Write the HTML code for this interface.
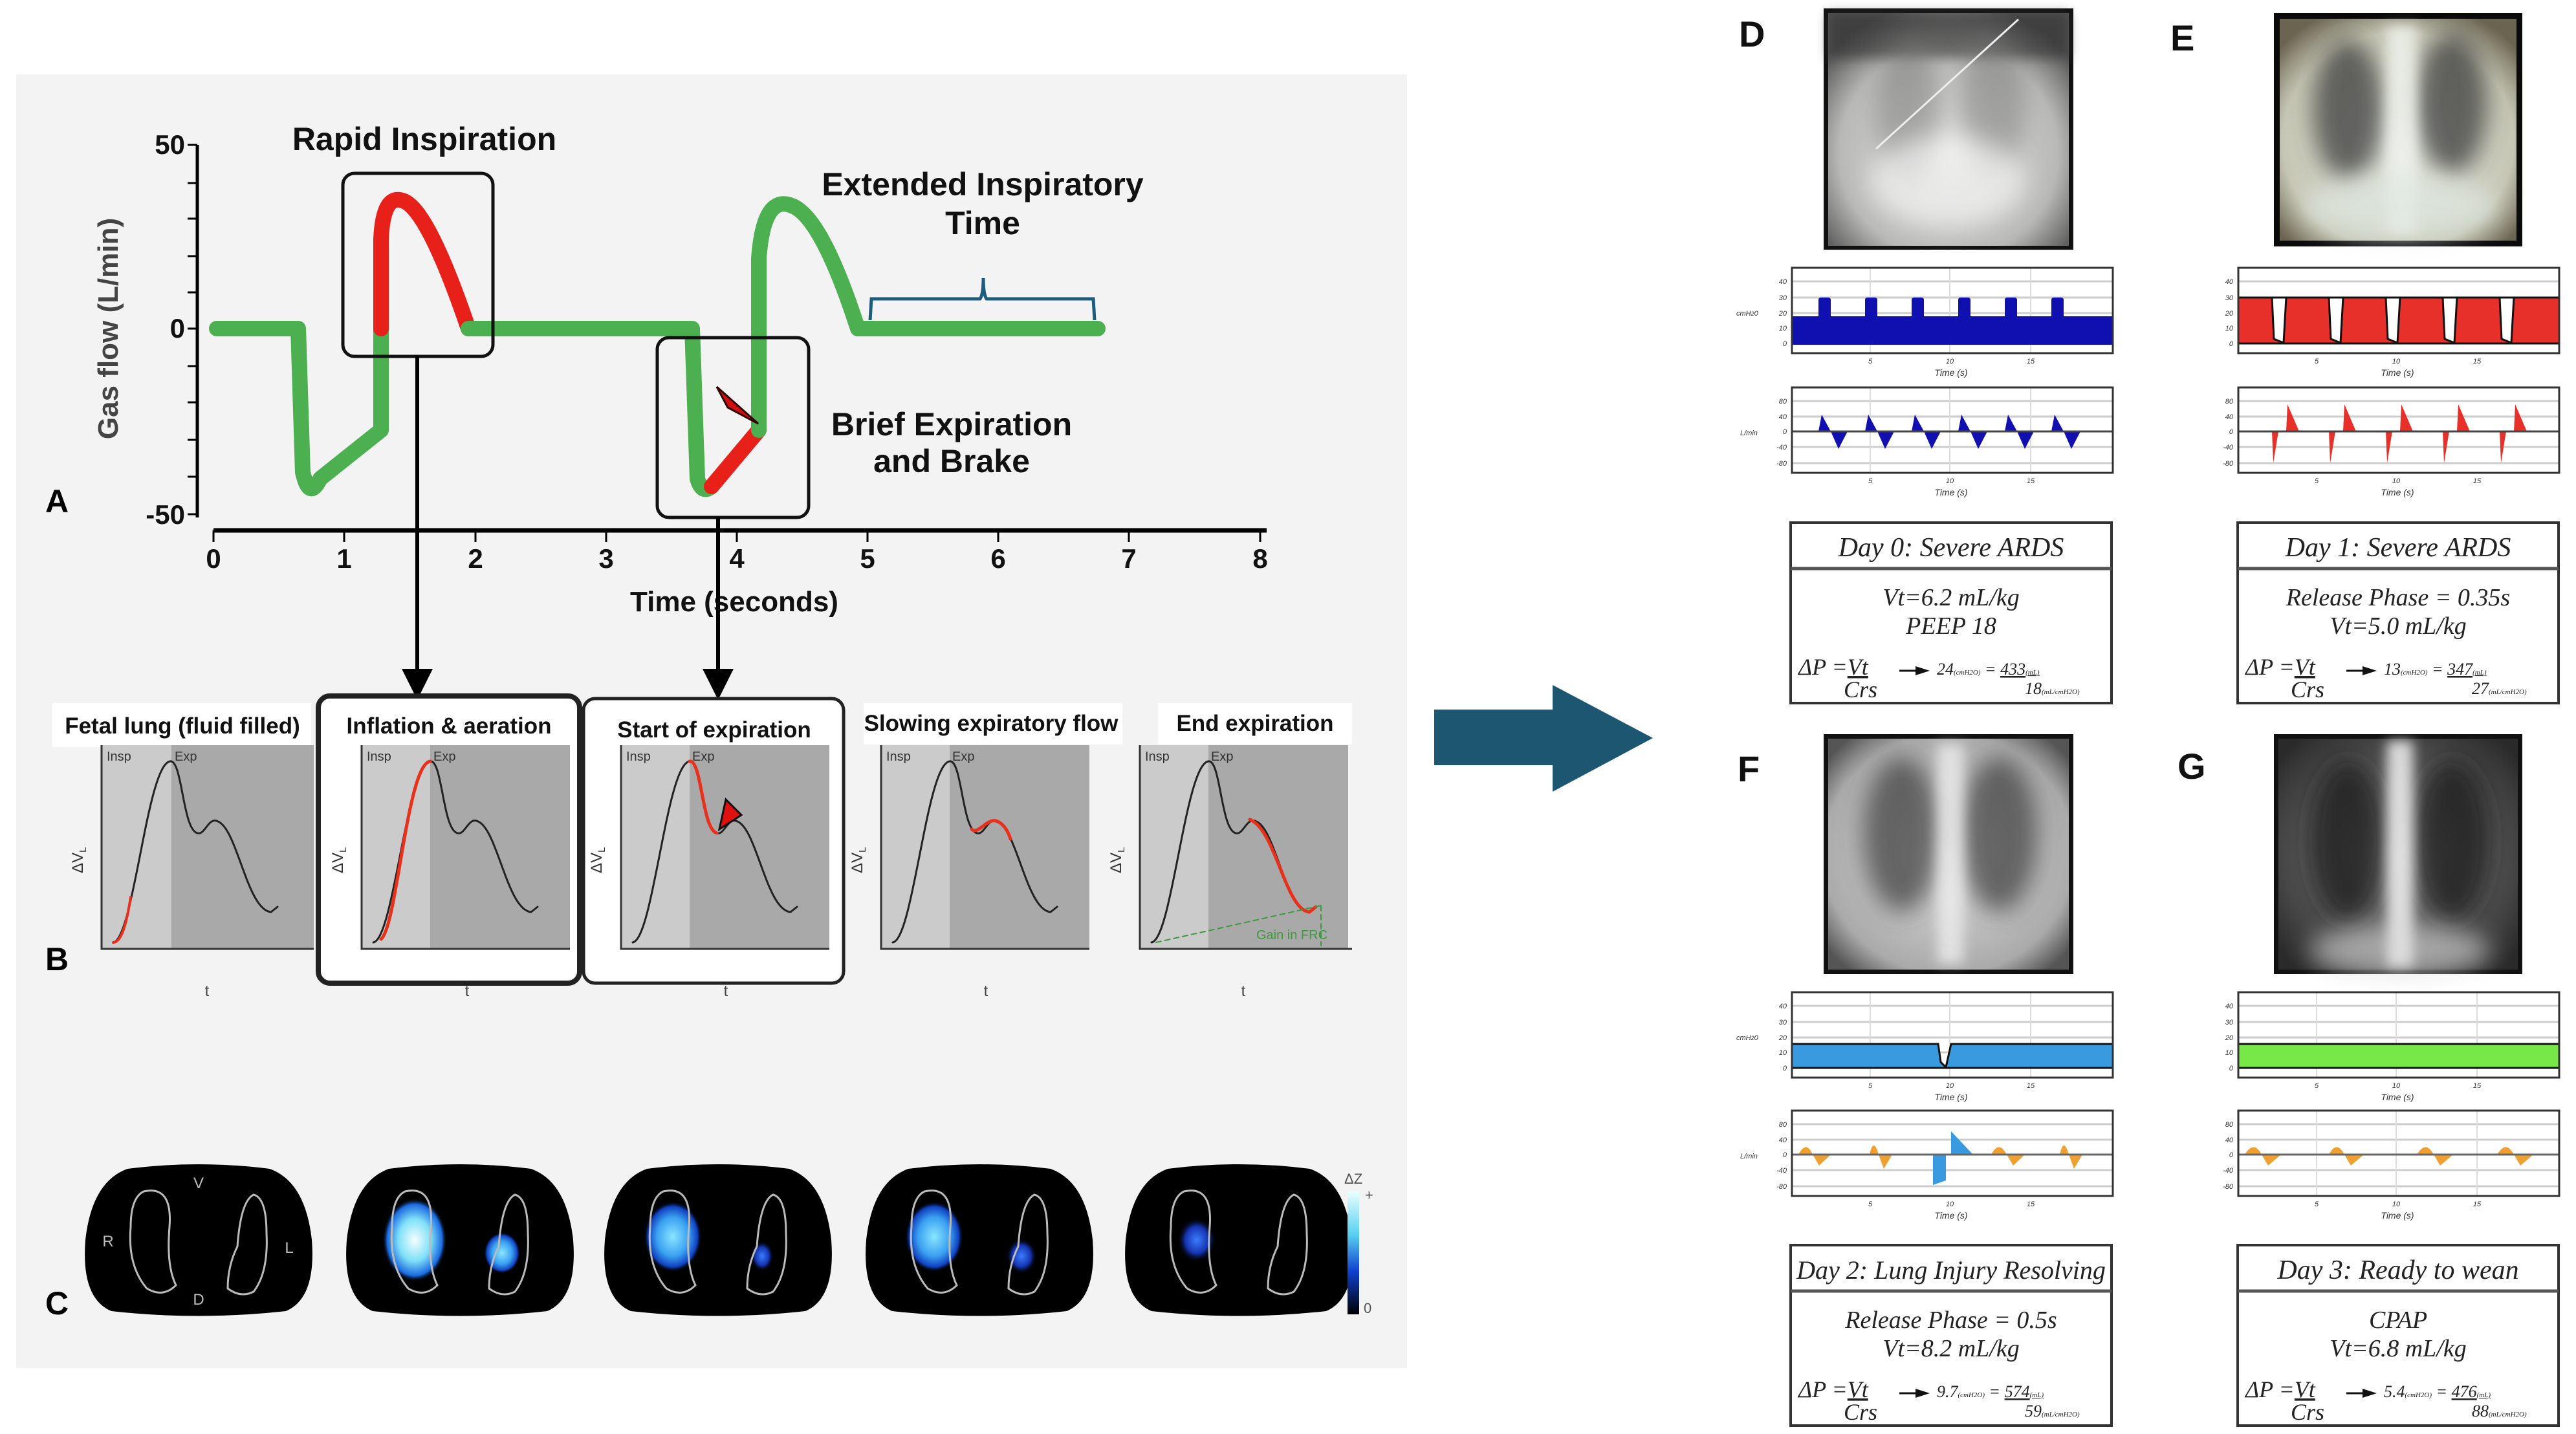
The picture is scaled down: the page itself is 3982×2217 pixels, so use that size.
<!DOCTYPE html>
<html><head><meta charset="utf-8"><style>
html,body{margin:0;padding:0;background:#fff;}
svg{display:block;}
.nar{font-family:"Liberation Sans Narrow","Liberation Sans",sans-serif;}
.sans{font-family:"Liberation Sans",sans-serif;}
.ser{font-family:"Liberation Serif",serif;font-style:italic;}
.tk{font-family:"Liberation Sans",sans-serif;font-size:11px;font-style:italic;fill:#333;}
</style></head><body>
<svg width="3982" height="2217" viewBox="0 0 3982 2217" xmlns="http://www.w3.org/2000/svg">
<defs>
<radialGradient id="xr1" cx="50%" cy="60%" r="65%"><stop offset="0" stop-color="#e6e6e4"/><stop offset="0.7" stop-color="#b8b8b6"/><stop offset="1" stop-color="#555"/></radialGradient>
<radialGradient id="xr2" cx="50%" cy="55%" r="65%"><stop offset="0" stop-color="#e8ece4"/><stop offset="0.75" stop-color="#c6c6b4"/><stop offset="1" stop-color="#6a6450"/></radialGradient>
<radialGradient id="xr3" cx="50%" cy="50%" r="65%"><stop offset="0" stop-color="#e0e0e0"/><stop offset="0.8" stop-color="#aaa"/><stop offset="1" stop-color="#555"/></radialGradient>
<radialGradient id="xr4" cx="50%" cy="50%" r="65%"><stop offset="0" stop-color="#9a9a9a"/><stop offset="1" stop-color="#2a2a2a"/></radialGradient>
<filter id="bl" x="-50%" y="-50%" width="200%" height="200%"><feGaussianBlur stdDeviation="18"/></filter>
<filter id="bl2" x="-50%" y="-50%" width="200%" height="200%"><feGaussianBlur stdDeviation="9"/></filter>
<linearGradient id="cb" x1="0" y1="0" x2="0" y2="1"><stop offset="0" stop-color="#e8ffff"/><stop offset="0.35" stop-color="#5ad0f0"/><stop offset="0.65" stop-color="#1040d0"/><stop offset="1" stop-color="#000"/></linearGradient>
<radialGradient id="g1"><stop offset="0" stop-color="#f4ffff"/><stop offset="0.5" stop-color="#7fe0f8"/><stop offset="0.85" stop-color="#1b6ae0"/><stop offset="1" stop-color="#000" stop-opacity="0"/></radialGradient>
<radialGradient id="g2"><stop offset="0" stop-color="#8ae6ff"/><stop offset="0.55" stop-color="#3aa0f0"/><stop offset="0.85" stop-color="#1040c0"/><stop offset="1" stop-color="#000" stop-opacity="0"/></radialGradient>
<radialGradient id="g3"><stop offset="0" stop-color="#3b7cff"/><stop offset="0.6" stop-color="#1434b0"/><stop offset="1" stop-color="#000" stop-opacity="0"/></radialGradient>
<marker id="ah" markerWidth="8" markerHeight="8" refX="6" refY="4" orient="auto" markerUnits="strokeWidth"><path d="M0,0 L8,4 L0,8 Z" fill="#000"/></marker>
</defs>

<rect x="25" y="115" width="2150" height="2000" fill="#f3f3f3"/>

<!-- Panel A -->
<g stroke="#000" stroke-width="5" fill="none">
<line x1="305" y1="224" x2="305" y2="800"/>
<line x1="330" y1="820" x2="1958" y2="820" stroke-width="7"/>
</g>
<g stroke="#000" stroke-width="3">
<line x1="290" y1="224" x2="305" y2="224"/><line x1="290" y1="283" x2="305" y2="283"/><line x1="290" y1="338" x2="305" y2="338"/><line x1="290" y1="396" x2="305" y2="396"/><line x1="290" y1="452" x2="305" y2="452"/><line x1="290" y1="508" x2="305" y2="508"/><line x1="290" y1="566" x2="305" y2="566"/><line x1="290" y1="622" x2="305" y2="622"/><line x1="290" y1="680" x2="305" y2="680"/><line x1="290" y1="737" x2="305" y2="737"/><line x1="290" y1="795" x2="305" y2="795"/>
<line x1="330" y1="820" x2="330" y2="838"/><line x1="532" y1="820" x2="532" y2="838"/><line x1="735" y1="820" x2="735" y2="838"/><line x1="937" y1="820" x2="937" y2="838"/><line x1="1139" y1="820" x2="1139" y2="838"/><line x1="1341" y1="820" x2="1341" y2="838"/><line x1="1543" y1="820" x2="1543" y2="838"/><line x1="1745" y1="820" x2="1745" y2="838"/><line x1="1948" y1="820" x2="1948" y2="838"/>
</g>
<g class="nar" font-size="42" font-weight="bold" fill="#111" text-anchor="end">
<text x="286" y="238">50</text><text x="286" y="522">0</text><text x="286" y="810">-50</text>
</g>
<g class="nar" font-size="42" font-weight="bold" fill="#111" text-anchor="middle">
<text x="330" y="878">0</text><text x="532" y="878">1</text><text x="735" y="878">2</text><text x="937" y="878">3</text><text x="1139" y="878">4</text><text x="1341" y="878">5</text><text x="1543" y="878">6</text><text x="1745" y="878">7</text><text x="1948" y="878">8</text>
<text x="1135" y="945" font-size="44">Time (seconds)</text>
</g>
<text class="sans" font-size="44" font-weight="bold" fill="#444" text-anchor="middle" transform="translate(182,508) rotate(-90)">Gas flow (L/min)</text>
<text class="sans" font-size="50" font-weight="bold" x="70" y="792">A</text>

<g fill="none" stroke-linecap="round" stroke-linejoin="round" stroke-width="24">
<path d="M335,508 L461,508 L468,730 Q478,775 495,740 L589,665 L589,508" stroke="#4caf50"/>
<path d="M589,508 L589,370 Q592,300 622,310 Q660,320 724,508" stroke="#e8201a"/>
<path d="M724,508 L1070,508 L1078,740 Q1085,765 1100,752" stroke="#4caf50"/>
<path d="M1100,752 L1173,665" stroke="#e8201a"/>
<path d="M1173,665 L1173,400 Q1180,300 1224,318 Q1270,335 1326,508 L1697,508" stroke="#4caf50"/>
</g>
<rect x="530" y="268" width="232" height="283" rx="18" fill="none" stroke="#111" stroke-width="5"/>
<rect x="1016" y="522" width="234" height="278" rx="18" fill="none" stroke="#111" stroke-width="5"/>
<path d="M1108,598 L1172,655 L1125,630 Z" fill="#d01010" stroke="#300" stroke-width="3"/>
<g class="nar" font-weight="bold" fill="#111" text-anchor="middle">
<text x="656" y="232" font-size="50">Rapid Inspiration</text>
<text x="1519" y="302" font-size="50">Extended Inspiratory</text>
<text x="1519" y="362" font-size="50">Time</text>
<text x="1471" y="673" font-size="50">Brief Expiration</text>
<text x="1471" y="730" font-size="50">and Brake</text>
</g>
<path d="M1345,495 L1347,462 L1515,462 Q1520,455 1520,430 Q1520,455 1525,462 L1690,462 L1692,495" fill="none" stroke="#1d5c7c" stroke-width="5"/>
<line x1="645" y1="551" x2="645" y2="1070" stroke="#000" stroke-width="6" marker-end="url(#ah)"/>
<line x1="1110" y1="800" x2="1110" y2="1070" stroke="#000" stroke-width="6" marker-end="url(#ah)"/>

<!-- Panel B -->
<rect x="492" y="1076" width="404" height="444" rx="18" fill="#fff" stroke="#222" stroke-width="8"/>
<rect x="902" y="1080" width="402" height="440" rx="18" fill="#fff" stroke="#222" stroke-width="5"/>
<g fill="#fff">
<rect x="81" y="1087" width="400" height="68"/><rect x="508" y="1087" width="372" height="68"/><rect x="915" y="1090" width="378" height="68"/><rect x="1335" y="1087" width="400" height="64"/><rect x="1790" y="1087" width="300" height="64"/>
</g>
<g class="nar" font-size="35" font-weight="bold" fill="#111" text-anchor="middle">
<text x="282" y="1134">Fetal lung (fluid filled)</text>
<text x="694" y="1134">Inflation &amp; aeration</text>
<text x="1104" y="1140">Start of expiration</text>
<text x="1532" y="1130">Slowing expiratory flow</text>
<text x="1940" y="1130">End expiration</text>
</g>
<g>
<g transform="translate(157,1152)"><rect width="328" height="315" fill="#a9a9a9"/><rect width="108" height="315" fill="#cbcbcb"/><path d="M0,0 V315 H328" fill="none" stroke="#333" stroke-width="3"/></g>
<g transform="translate(559,1152)"><rect width="322" height="315" fill="#a9a9a9"/><rect width="106" height="315" fill="#cbcbcb"/><path d="M0,0 V315 H322" fill="none" stroke="#333" stroke-width="3"/></g>
<g transform="translate(960,1152)"><rect width="322" height="315" fill="#a9a9a9"/><rect width="106" height="315" fill="#cbcbcb"/><path d="M0,0 V315 H322" fill="none" stroke="#333" stroke-width="3"/></g>
<g transform="translate(1362,1152)"><rect width="322" height="315" fill="#a9a9a9"/><rect width="106" height="315" fill="#cbcbcb"/><path d="M0,0 V315 H322" fill="none" stroke="#333" stroke-width="3"/></g>
<g transform="translate(1762,1152)"><rect width="322" height="315" fill="#a9a9a9"/><rect width="106" height="315" fill="#cbcbcb"/><path d="M0,0 V315 H328" fill="none" stroke="#333" stroke-width="3"/></g>
</g>
<g fill="none" stroke-width="3" stroke-linecap="round">
<g transform="translate(157,1152)">
<path d="M18,305 C50,300 70,30 106,25 C125,22 125,130 148,136 C160,140 165,110 180,118 C210,130 225,255 262,258 L272,250" stroke="#222"/>
<path d="M18,305 C30,305 38,280 45,235" stroke="#e8301a" stroke-width="4"/>
</g>
<g transform="translate(559,1152)">
<path d="M18,305 C50,300 70,30 106,25 C125,22 125,130 148,136 C160,140 165,110 180,118 C210,130 225,255 262,258 L272,250" stroke="#222"/>
<path d="M30,300 C55,280 70,30 106,25" stroke="#e8301a" stroke-width="5"/>
</g>
<g transform="translate(960,1152)">
<path d="M18,305 C50,300 70,30 106,25 C125,22 125,130 148,136 C160,140 165,110 180,118 C210,130 225,255 262,258 L272,250" stroke="#222"/>
<path d="M106,25 C125,22 125,130 148,136" stroke="#e8301a" stroke-width="5"/>
<path d="M152,130 L162,84 L186,108 Z" fill="#e01010" stroke="#111" stroke-width="3"/>
</g>
<g transform="translate(1362,1152)">
<path d="M18,305 C50,300 70,30 106,25 C125,22 125,130 148,136 C160,140 165,110 180,118 C210,130 225,255 262,258 L272,250" stroke="#222"/>
<path d="M140,130 C150,140 165,110 180,118 C190,122 197,135 200,145" stroke="#e8301a" stroke-width="5"/>
</g>
<g transform="translate(1762,1152)">
<path d="M18,305 C50,300 70,30 106,25 C125,22 125,130 148,136 C160,140 165,110 180,118 C210,130 225,255 262,258 L272,250" stroke="#222"/>
<path d="M170,115 C210,130 225,255 262,258 L272,250" stroke="#e8301a" stroke-width="5"/>
<path d="M25,305 L280,248 M280,248 V310" stroke="#3c9a3c" stroke-width="2" stroke-dasharray="8 6"/>
<text x="180" y="300" font-size="20" fill="#3c9a3c" stroke="none" class="sans">Gain in FRC</text>
</g>
</g>
<g class="sans" font-size="20" fill="#333">
<text x="165" y="1176">Insp</text><text x="270" y="1176">Exp</text>
<text x="567" y="1176">Insp</text><text x="670" y="1176">Exp</text>
<text x="968" y="1176">Insp</text><text x="1070" y="1176">Exp</text>
<text x="1370" y="1176">Insp</text><text x="1472" y="1176">Exp</text>
<text x="1770" y="1176">Insp</text><text x="1872" y="1176">Exp</text>
</g>
<g class="sans" font-size="24" fill="#333">
<text transform="translate(128,1350) rotate(-90)">ΔV<tspan font-size="15" dy="5">L</tspan></text>
<text transform="translate(530,1350) rotate(-90)">ΔV<tspan font-size="15" dy="5">L</tspan></text>
<text transform="translate(930,1350) rotate(-90)">ΔV<tspan font-size="15" dy="5">L</tspan></text>
<text transform="translate(1333,1350) rotate(-90)">ΔV<tspan font-size="15" dy="5">L</tspan></text>
<text transform="translate(1733,1350) rotate(-90)">ΔV<tspan font-size="15" dy="5">L</tspan></text>
</g>
<g class="sans" font-size="24" fill="#444" text-anchor="middle">
<text x="320" y="1540">t</text><text x="722" y="1540">t</text><text x="1122" y="1540">t</text><text x="1524" y="1540">t</text><text x="1922" y="1540">t</text>
</g>
<text class="sans" font-size="50" font-weight="bold" x="70" y="1500">B</text>

<!-- Panel C -->
<g>
<g transform="translate(307,1917)">
<path d="M-110,-110 Q0,-124 110,-110 Q165,-90 175,0 Q182,90 135,110 Q0,125 -135,110 Q-182,90 -175,0 Q-165,-90 -110,-110 Z" fill="#000"/>
<path d="M-85,-75 Q-40,-85 -45,-20 Q-50,40 -35,70 Q-55,90 -80,75 Q-110,40 -105,-20 Q-105,-65 -85,-75 Z M85,-70 Q105,-65 105,-10 Q108,50 85,80 Q65,90 45,75 Q45,40 60,10 Q65,-60 85,-70 Z" fill="none" stroke="#bbb" stroke-width="3"/>
<g class="sans" font-size="24" fill="#bbb" text-anchor="middle"><text x="0" y="-80">V</text><text x="-140" y="10">R</text><text x="140" y="20">L</text><text x="0" y="100">D</text></g>
</g>
<g transform="translate(711,1917)">
<path d="M-110,-110 Q0,-124 110,-110 Q165,-90 175,0 Q182,90 135,110 Q0,125 -135,110 Q-182,90 -175,0 Q-165,-90 -110,-110 Z" fill="#000"/>
<ellipse cx="-70" cy="0" rx="50" ry="65" fill="url(#g1)"/><ellipse cx="65" cy="20" rx="28" ry="32" fill="url(#g2)"/>
<path d="M-85,-75 Q-40,-85 -45,-20 Q-50,40 -35,70 Q-55,90 -80,75 Q-110,40 -105,-20 Q-105,-65 -85,-75 Z M85,-70 Q105,-65 105,-10 Q108,50 85,80 Q65,90 45,75 Q45,40 60,10 Q65,-60 85,-70 Z" fill="none" stroke="#bbb" stroke-width="3"/>
</g>
<g transform="translate(1110,1917)">
<path d="M-110,-110 Q0,-124 110,-110 Q165,-90 175,0 Q182,90 135,110 Q0,125 -135,110 Q-182,90 -175,0 Q-165,-90 -110,-110 Z" fill="#000"/>
<ellipse cx="-70" cy="-5" rx="45" ry="55" fill="url(#g2)"/><ellipse cx="68" cy="25" rx="18" ry="24" fill="url(#g3)"/>
<path d="M-85,-75 Q-40,-85 -45,-20 Q-50,40 -35,70 Q-55,90 -80,75 Q-110,40 -105,-20 Q-105,-65 -85,-75 Z M85,-70 Q105,-65 105,-10 Q108,50 85,80 Q65,90 45,75 Q45,40 60,10 Q65,-60 85,-70 Z" fill="none" stroke="#bbb" stroke-width="3"/>
</g>
<g transform="translate(1514,1917)">
<path d="M-110,-110 Q0,-124 110,-110 Q165,-90 175,0 Q182,90 135,110 Q0,125 -135,110 Q-182,90 -175,0 Q-165,-90 -110,-110 Z" fill="#000"/>
<ellipse cx="-70" cy="-5" rx="45" ry="55" fill="url(#g2)"/><ellipse cx="65" cy="25" rx="24" ry="28" fill="url(#g3)"/>
<path d="M-85,-75 Q-40,-85 -45,-20 Q-50,40 -35,70 Q-55,90 -80,75 Q-110,40 -105,-20 Q-105,-65 -85,-75 Z M85,-70 Q105,-65 105,-10 Q108,50 85,80 Q65,90 45,75 Q45,40 60,10 Q65,-60 85,-70 Z" fill="none" stroke="#bbb" stroke-width="3"/>
</g>
<g transform="translate(1915,1917)">
<path d="M-110,-110 Q0,-124 110,-110 Q165,-90 175,0 Q182,90 135,110 Q0,125 -135,110 Q-182,90 -175,0 Q-165,-90 -110,-110 Z" fill="#000"/>
<ellipse cx="-65" cy="0" rx="30" ry="35" fill="url(#g3)"/>
<path d="M-85,-75 Q-40,-85 -45,-20 Q-50,40 -35,70 Q-55,90 -80,75 Q-110,40 -105,-20 Q-105,-65 -85,-75 Z M85,-70 Q105,-65 105,-10 Q108,50 85,80 Q65,90 45,75 Q45,40 60,10 Q65,-60 85,-70 Z" fill="none" stroke="#bbb" stroke-width="3"/>
</g>
</g>
<rect x="2083" y="1842" width="18" height="190" fill="url(#cb)"/>
<g class="sans" font-size="22" fill="#555"><text x="2078" y="1830">ΔZ</text><text x="2110" y="1855">+</text><text x="2108" y="2030">0</text></g>
<text class="sans" font-size="50" font-weight="bold" x="70" y="2032">C</text>

<path d="M2217,1097 H2400 V1059 L2555,1141 L2400,1224 V1183 H2217 Z" fill="#1d5670"/>

<g class="sans" font-size="56" font-weight="bold" fill="#111">
<text x="2688" y="72">D</text><text x="3355" y="78">E</text><text x="2686" y="1208">F</text><text x="3366" y="1204">G</text>
</g>

<g>
<rect x="2819" y="13" width="386" height="373" fill="#111"/>
<rect x="2826" y="20" width="372" height="360" fill="url(#xr1)"/>
<rect x="2826" y="20" width="372" height="70" fill="#333" opacity="0.6" filter="url(#bl2)"/>
<ellipse cx="2950" cy="170" rx="50" ry="110" fill="#777" opacity="0.5" filter="url(#bl)"/>
<ellipse cx="3080" cy="160" rx="50" ry="110" fill="#777" opacity="0.5" filter="url(#bl)"/>
<ellipse cx="3010" cy="280" rx="120" ry="70" fill="#f2f2f2" opacity="0.7" filter="url(#bl)"/>
<line x1="2900" y1="230" x2="3120" y2="30" stroke="#eee" stroke-width="3"/>
</g>
<g>
<rect x="3515" y="20" width="384" height="361" fill="#0a0a0a"/>
<rect x="3524" y="29" width="366" height="343" fill="url(#xr2)"/>
<ellipse cx="3630" cy="170" rx="55" ry="110" fill="#3a3a3a" opacity="0.75" filter="url(#bl)"/>
<ellipse cx="3790" cy="160" rx="55" ry="110" fill="#3a3a3a" opacity="0.75" filter="url(#bl)"/>
<rect x="3690" y="40" width="45" height="320" fill="#eef2ec" opacity="0.8" filter="url(#bl2)"/>
<ellipse cx="3710" cy="320" rx="150" ry="50" fill="#dfe8e2" opacity="0.7" filter="url(#bl)"/>
</g>
<g>
<rect x="2819" y="1135" width="386" height="371" fill="#111"/>
<rect x="2826" y="1142" width="372" height="357" fill="url(#xr3)"/>
<ellipse cx="2940" cy="1290" rx="60" ry="120" fill="#3a3a3a" opacity="0.7" filter="url(#bl)"/>
<ellipse cx="3090" cy="1290" rx="60" ry="120" fill="#3a3a3a" opacity="0.7" filter="url(#bl)"/>
<rect x="2995" y="1150" width="40" height="340" fill="#f2f2f2" opacity="0.7" filter="url(#bl2)"/>
</g>
<g>
<rect x="3515" y="1135" width="384" height="371" fill="#111"/>
<rect x="3522" y="1142" width="370" height="357" fill="url(#xr4)"/>
<ellipse cx="3630" cy="1300" rx="60" ry="125" fill="#1a1a1a" opacity="0.8" filter="url(#bl)"/>
<ellipse cx="3790" cy="1300" rx="60" ry="125" fill="#1a1a1a" opacity="0.8" filter="url(#bl)"/>
<rect x="3690" y="1145" width="40" height="350" fill="#f0f0f0" opacity="0.85" filter="url(#bl2)"/>
<ellipse cx="3710" cy="1470" rx="140" ry="40" fill="#ddd" opacity="0.6" filter="url(#bl)"/>
</g>

<!-- D pressure -->
<g transform="translate(2770,414)">
<rect width="496" height="132" fill="#fff"/>
<g stroke="#ccc" stroke-width="3"><line x1="0" y1="21" x2="496" y2="21"/><line x1="0" y1="46" x2="496" y2="46"/><line x1="0" y1="70" x2="496" y2="70"/><line x1="0" y1="93" x2="496" y2="93"/><line x1="0" y1="117" x2="496" y2="117"/></g>
<g stroke="#ddd" stroke-width="2"><line x1="121" y1="0" x2="121" y2="132"/><line x1="244" y1="0" x2="244" y2="132"/><line x1="369" y1="0" x2="369" y2="132"/></g>
<rect x="0" y="75" width="496" height="44" fill="#1010b0"/>
<g fill="#1010b0"><path d="M41,75 V50 Q41,46 45,46 H56 Q60,46 60,50 V75Z"/><path d="M113,75 V50 Q113,46 117,46 H128 Q132,46 132,50 V75Z"/><path d="M185,75 V50 Q185,46 189,46 H200 Q204,46 204,50 V75Z"/><path d="M257,75 V50 Q257,46 261,46 H272 Q276,46 276,50 V75Z"/><path d="M329,75 V50 Q329,46 333,46 H344 Q348,46 348,50 V75Z"/><path d="M401,75 V50 Q401,46 405,46 H416 Q420,46 420,50 V75Z"/></g>
<rect width="496" height="132" fill="none" stroke="#333" stroke-width="3"/>
<g class="tk" text-anchor="end"><text x="-8" y="25">40</text><text x="-8" y="50">30</text><text x="-8" y="74">20</text><text x="-8" y="97">10</text><text x="-8" y="121">0</text></g>
<g class="tk" text-anchor="middle"><text x="121" y="148">5</text><text x="244" y="148">10</text><text x="369" y="148">15</text><text x="246" y="167" font-size="14">Time (s)</text></g>
<text class="tk" x="-86" y="74" font-size="13">cmH<tspan font-size="9">2</tspan>0</text>
</g>
<!-- D flow -->
<g transform="translate(2770,599)">
<rect width="496" height="132" fill="#fff"/>
<g stroke="#ccc" stroke-width="3"><line x1="0" y1="21" x2="496" y2="21"/><line x1="0" y1="45" x2="496" y2="45"/><line x1="0" y1="92" x2="496" y2="92"/><line x1="0" y1="117" x2="496" y2="117"/></g>
<g stroke="#ddd" stroke-width="2"><line x1="121" y1="0" x2="121" y2="132"/><line x1="244" y1="0" x2="244" y2="132"/><line x1="369" y1="0" x2="369" y2="132"/></g>
<g fill="#1010b0"><path d="M41,68 L46,42 L60,68 L72,95 L86,68Z"/><path d="M113,68 L118,42 L132,68 L144,95 L158,68Z"/><path d="M185,68 L190,42 L204,68 L216,95 L230,68Z"/><path d="M257,68 L262,42 L276,68 L288,95 L302,68Z"/><path d="M329,68 L334,42 L348,68 L360,95 L374,68Z"/><path d="M401,68 L406,42 L420,68 L432,95 L446,68Z"/></g>
<line x1="0" y1="68" x2="496" y2="68" stroke="#444" stroke-width="3"/>
<rect width="496" height="132" fill="none" stroke="#333" stroke-width="3"/>
<g class="tk" text-anchor="end"><text x="-8" y="25">80</text><text x="-8" y="49">40</text><text x="-8" y="72">0</text><text x="-8" y="96">-40</text><text x="-8" y="121">-80</text></g>
<g class="tk" text-anchor="middle"><text x="121" y="148">5</text><text x="244" y="148">10</text><text x="369" y="148">15</text><text x="246" y="167" font-size="14">Time (s)</text></g>
<text class="tk" x="-80" y="74" font-size="13">L/min</text>
</g>
<!-- E pressure -->
<g transform="translate(3460,414)">
<rect width="496" height="132" fill="#fff"/>
<g stroke="#ccc" stroke-width="3"><line x1="0" y1="21" x2="496" y2="21"/><line x1="0" y1="46" x2="496" y2="46"/><line x1="0" y1="70" x2="496" y2="70"/><line x1="0" y1="93" x2="496" y2="93"/><line x1="0" y1="117" x2="496" y2="117"/></g>
<rect x="0" y="46" width="496" height="71" fill="#e8302a" stroke="#111" stroke-width="3"/>
<g fill="#fff" stroke="#111" stroke-width="3"><path d="M52,46 L55,110 L70,116 L74,46Z"/><path d="M140,46 L143,110 L158,116 L162,46Z"/><path d="M228,46 L231,110 L246,116 L250,46Z"/><path d="M316,46 L319,110 L334,116 L338,46Z"/><path d="M404,46 L407,110 L422,116 L426,46Z"/></g>
<rect width="496" height="132" fill="none" stroke="#333" stroke-width="3"/>
<g class="tk" text-anchor="end"><text x="-8" y="25">40</text><text x="-8" y="50">30</text><text x="-8" y="74">20</text><text x="-8" y="97">10</text><text x="-8" y="121">0</text></g>
<g class="tk" text-anchor="middle"><text x="121" y="148">5</text><text x="244" y="148">10</text><text x="369" y="148">15</text><text x="246" y="167" font-size="14">Time (s)</text></g>
</g>
<!-- E flow -->
<g transform="translate(3460,599)">
<rect width="496" height="132" fill="#fff"/>
<g stroke="#ccc" stroke-width="3"><line x1="0" y1="21" x2="496" y2="21"/><line x1="0" y1="45" x2="496" y2="45"/><line x1="0" y1="92" x2="496" y2="92"/><line x1="0" y1="117" x2="496" y2="117"/></g>
<g fill="#e8302a"><path d="M52,68 L54,117 L62,68Z M74,68 L76,26 L94,68Z"/><path d="M140,68 L142,117 L150,68Z M162,68 L164,26 L182,68Z"/><path d="M228,68 L230,117 L238,68Z M250,68 L252,26 L270,68Z"/><path d="M316,68 L318,117 L326,68Z M338,68 L340,26 L358,68Z"/><path d="M404,68 L406,117 L414,68Z M426,68 L428,26 L446,68Z"/></g>
<line x1="0" y1="68" x2="496" y2="68" stroke="#444" stroke-width="3"/>
<rect width="496" height="132" fill="none" stroke="#333" stroke-width="3"/>
<g class="tk" text-anchor="end"><text x="-8" y="25">80</text><text x="-8" y="49">40</text><text x="-8" y="72">0</text><text x="-8" y="96">-40</text><text x="-8" y="121">-80</text></g>
<g class="tk" text-anchor="middle"><text x="121" y="148">5</text><text x="244" y="148">10</text><text x="369" y="148">15</text><text x="246" y="167" font-size="14">Time (s)</text></g>
</g>
<!-- F pressure -->
<g transform="translate(2770,1534)">
<rect width="496" height="132" fill="#fff"/>
<g stroke="#ccc" stroke-width="3"><line x1="0" y1="21" x2="496" y2="21"/><line x1="0" y1="46" x2="496" y2="46"/><line x1="0" y1="70" x2="496" y2="70"/><line x1="0" y1="93" x2="496" y2="93"/></g>
<g stroke="#ddd" stroke-width="2"><line x1="121" y1="0" x2="121" y2="132"/><line x1="244" y1="0" x2="244" y2="132"/><line x1="369" y1="0" x2="369" y2="132"/></g>
<path d="M0,80 H226 L230,108 L238,116 L246,80 H496 V117 H0Z" fill="#3a9ae0" stroke="#111" stroke-width="3"/>
<rect width="496" height="132" fill="none" stroke="#333" stroke-width="3"/>
<g class="tk" text-anchor="end"><text x="-8" y="25">40</text><text x="-8" y="50">30</text><text x="-8" y="74">20</text><text x="-8" y="97">10</text><text x="-8" y="121">0</text></g>
<g class="tk" text-anchor="middle"><text x="121" y="148">5</text><text x="244" y="148">10</text><text x="369" y="148">15</text><text x="246" y="167" font-size="14">Time (s)</text></g>
<text class="tk" x="-86" y="74" font-size="13">cmH<tspan font-size="9">2</tspan>0</text>
</g>
<!-- F flow -->
<g transform="translate(2770,1717)">
<rect width="496" height="132" fill="#fff"/>
<g stroke="#ccc" stroke-width="3"><line x1="0" y1="21" x2="496" y2="21"/><line x1="0" y1="45" x2="496" y2="45"/><line x1="0" y1="92" x2="496" y2="92"/><line x1="0" y1="117" x2="496" y2="117"/></g>
<g fill="#f0a030"><path d="M10,68 Q22,45 32,68 L42,85 L60,68Z"/><path d="M120,68 Q126,40 134,68 L142,90 L155,68Z"/><path d="M308,68 Q320,45 332,68 L342,85 L360,68Z"/><path d="M414,68 Q420,40 428,68 L436,90 L449,68Z"/></g>
<g fill="#3a9ae0"><path d="M218,68 H238 V108 L218,115Z"/><path d="M246,68 V32 L280,68Z"/></g>
<line x1="0" y1="68" x2="496" y2="68" stroke="#666" stroke-width="3"/>
<rect width="496" height="132" fill="none" stroke="#333" stroke-width="3"/>
<g class="tk" text-anchor="end"><text x="-8" y="25">80</text><text x="-8" y="49">40</text><text x="-8" y="72">0</text><text x="-8" y="96">-40</text><text x="-8" y="121">-80</text></g>
<g class="tk" text-anchor="middle"><text x="121" y="148">5</text><text x="244" y="148">10</text><text x="369" y="148">15</text><text x="246" y="167" font-size="14">Time (s)</text></g>
<text class="tk" x="-80" y="74" font-size="13">L/min</text>
</g>
<!-- G pressure -->
<g transform="translate(3460,1534)">
<rect width="496" height="132" fill="#fff"/>
<g stroke="#ccc" stroke-width="3"><line x1="0" y1="21" x2="496" y2="21"/><line x1="0" y1="46" x2="496" y2="46"/><line x1="0" y1="70" x2="496" y2="70"/></g>
<g stroke="#ddd" stroke-width="2"><line x1="121" y1="0" x2="121" y2="132"/><line x1="244" y1="0" x2="244" y2="132"/><line x1="369" y1="0" x2="369" y2="132"/></g>
<rect x="0" y="80" width="496" height="37" fill="#78e848" stroke="#111" stroke-width="3"/>
<rect width="496" height="132" fill="none" stroke="#333" stroke-width="3"/>
<g class="tk" text-anchor="end"><text x="-8" y="25">40</text><text x="-8" y="50">30</text><text x="-8" y="74">20</text><text x="-8" y="97">10</text><text x="-8" y="121">0</text></g>
<g class="tk" text-anchor="middle"><text x="121" y="148">5</text><text x="244" y="148">10</text><text x="369" y="148">15</text><text x="246" y="167" font-size="14">Time (s)</text></g>
</g>
<!-- G flow -->
<g transform="translate(3460,1717)">
<rect width="496" height="132" fill="#fff"/>
<g stroke="#ccc" stroke-width="3"><line x1="0" y1="21" x2="496" y2="21"/><line x1="0" y1="45" x2="496" y2="45"/><line x1="0" y1="92" x2="496" y2="92"/><line x1="0" y1="117" x2="496" y2="117"/></g>
<g stroke="#ddd" stroke-width="2"><line x1="121" y1="0" x2="121" y2="132"/><line x1="244" y1="0" x2="244" y2="132"/><line x1="369" y1="0" x2="369" y2="132"/></g>
<g fill="#f0a030"><path d="M10,68 Q24,45 36,68 L46,85 L66,68Z"/><path d="M140,68 Q152,45 164,68 L174,85 L194,68Z"/><path d="M276,68 Q290,45 302,68 L312,85 L332,68Z"/><path d="M400,68 Q414,45 426,68 L436,85 L456,68Z"/></g>
<line x1="0" y1="68" x2="496" y2="68" stroke="#666" stroke-width="3"/>
<rect width="496" height="132" fill="none" stroke="#333" stroke-width="3"/>
<g class="tk" text-anchor="end"><text x="-8" y="25">80</text><text x="-8" y="49">40</text><text x="-8" y="72">0</text><text x="-8" y="96">-40</text><text x="-8" y="121">-80</text></g>
<g class="tk" text-anchor="middle"><text x="121" y="148">5</text><text x="244" y="148">10</text><text x="369" y="148">15</text><text x="246" y="167" font-size="14">Time (s)</text></g>
</g>

<!-- Text boxes -->
<g transform="translate(2768,808)">
<rect width="496" height="279" fill="#fff" stroke="#333" stroke-width="4"/><line x1="0" y1="71" x2="496" y2="71" stroke="#555" stroke-width="5"/>
<g class="ser" fill="#222" text-anchor="middle"><text x="248" y="52" font-size="42">Day 0: Severe ARDS</text><text x="248" y="128" font-size="38">Vt=6.2 mL/kg</text><text x="248" y="172" font-size="38">PEEP 18</text></g>
<g class="ser" fill="#222"><text x="12" y="235" font-size="36">ΔP =<tspan text-decoration="underline">Vt</tspan></text><text x="82" y="270" font-size="36">Crs</text>
<text x="226" y="235" font-size="26">24<tspan font-size="11">(cmH2O)</tspan> = <tspan text-decoration="underline">433<tspan font-size="11">(mL)</tspan></tspan></text>
<text x="362" y="265" font-size="26">18<tspan font-size="11">(mL/cmH2O)</tspan></text></g>
<path d="M168,229 H195" stroke="#111" stroke-width="3"/><path d="M193,222 L215,229 L193,236Z" fill="#111"/>
</g>
<g transform="translate(3459,808)">
<rect width="496" height="279" fill="#fff" stroke="#333" stroke-width="4"/><line x1="0" y1="71" x2="496" y2="71" stroke="#555" stroke-width="5"/>
<g class="ser" fill="#222" text-anchor="middle"><text x="248" y="52" font-size="42">Day 1: Severe ARDS</text><text x="248" y="128" font-size="38">Release Phase = 0.35s</text><text x="248" y="172" font-size="38">Vt=5.0 mL/kg</text></g>
<g class="ser" fill="#222"><text x="12" y="235" font-size="36">ΔP =<tspan text-decoration="underline">Vt</tspan></text><text x="82" y="270" font-size="36">Crs</text>
<text x="226" y="235" font-size="26">13<tspan font-size="11">(cmH2O)</tspan> = <tspan text-decoration="underline">347<tspan font-size="11">(mL)</tspan></tspan></text>
<text x="362" y="265" font-size="26">27<tspan font-size="11">(mL/cmH2O)</tspan></text></g>
<path d="M168,229 H195" stroke="#111" stroke-width="3"/><path d="M193,222 L215,229 L193,236Z" fill="#111"/>
</g>
<g transform="translate(2768,1925)">
<rect width="496" height="279" fill="#fff" stroke="#333" stroke-width="4"/><line x1="0" y1="71" x2="496" y2="71" stroke="#555" stroke-width="5"/>
<g class="ser" fill="#222" text-anchor="middle"><text x="248" y="52" font-size="40">Day 2: Lung Injury Resolving</text><text x="248" y="128" font-size="38">Release Phase = 0.5s</text><text x="248" y="172" font-size="38">Vt=8.2 mL/kg</text></g>
<g class="ser" fill="#222"><text x="12" y="235" font-size="36">ΔP =<tspan text-decoration="underline">Vt</tspan></text><text x="82" y="270" font-size="36">Crs</text>
<text x="226" y="235" font-size="26">9.7<tspan font-size="11">(cmH2O)</tspan> = <tspan text-decoration="underline">574<tspan font-size="11">(mL)</tspan></tspan></text>
<text x="362" y="265" font-size="26">59<tspan font-size="11">(mL/cmH2O)</tspan></text></g>
<path d="M168,229 H195" stroke="#111" stroke-width="3"/><path d="M193,222 L215,229 L193,236Z" fill="#111"/>
</g>
<g transform="translate(3459,1925)">
<rect width="496" height="279" fill="#fff" stroke="#333" stroke-width="4"/><line x1="0" y1="71" x2="496" y2="71" stroke="#555" stroke-width="5"/>
<g class="ser" fill="#222" text-anchor="middle"><text x="248" y="52" font-size="42">Day 3: Ready to wean</text><text x="248" y="128" font-size="38">CPAP</text><text x="248" y="172" font-size="38">Vt=6.8 mL/kg</text></g>
<g class="ser" fill="#222"><text x="12" y="235" font-size="36">ΔP =<tspan text-decoration="underline">Vt</tspan></text><text x="82" y="270" font-size="36">Crs</text>
<text x="226" y="235" font-size="26">5.4<tspan font-size="11">(cmH2O)</tspan> = <tspan text-decoration="underline">476<tspan font-size="11">(mL)</tspan></tspan></text>
<text x="362" y="265" font-size="26">88<tspan font-size="11">(mL/cmH2O)</tspan></text></g>
<path d="M168,229 H195" stroke="#111" stroke-width="3"/><path d="M193,222 L215,229 L193,236Z" fill="#111"/>
</g>
</svg>
</body></html>
